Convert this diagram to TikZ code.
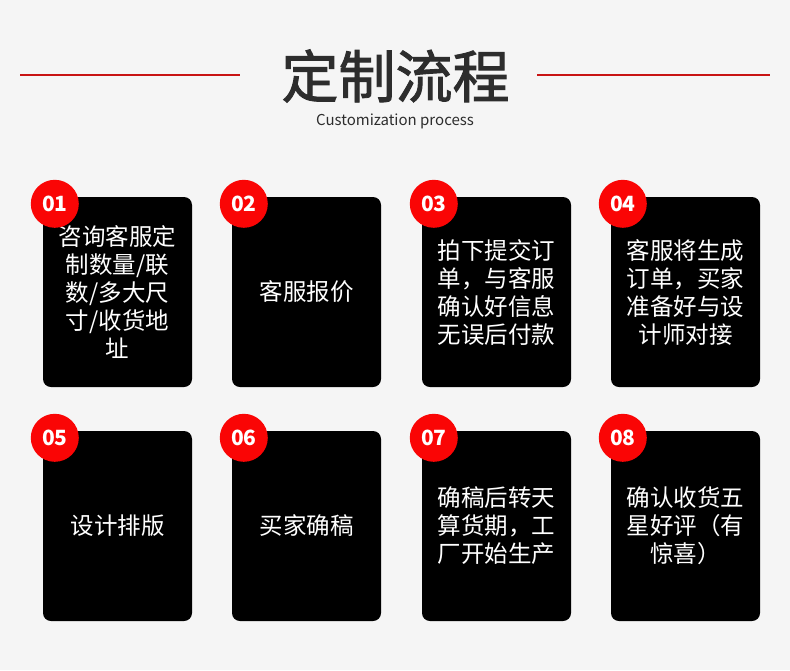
\documentclass[tikz,border=0pt]{standalone}
\usepackage{fontspec}
\setmainfont{Noto Sans CJK SC}
\newfontfamily\headfont{Noto Sans CJK SC}[FakeBold=1.6]
\definecolor{flowBg}{RGB}{245,245,245}
\definecolor{flowRed}{RGB}{250,5,5}
\definecolor{flowLine}{RGB}{200,20,20}
\definecolor{flowText}{RGB}{45,45,45}
\usepackage{tikz}
\usetikzlibrary{positioning}

\begin{document}
\begin{tikzpicture}[x=1pt, y=-1pt,
    card/.style={rectangle, rounded corners=8pt, fill=black, text=white,
                 minimum width=149pt, minimum height=190pt, inner sep=0pt,
                 align=center, font=\fontsize{23.5}{28}\selectfont},
    badge/.style={circle, fill=flowRed, text=white, minimum size=48pt, inner sep=0pt,
                  font=\fontsize{21}{21}\selectfont\bfseries}
  ]
  \fill[flowBg] (0,0) rectangle (790,670);
  \useasboundingbox (0,0) rectangle (790,670);

  % heading
  \node[text=flowText, font=\fontsize{57}{57}\selectfont\headfont] (title) at (395.5,76) {定制流程};
  \node[text=flowText, font=\fontsize{15}{15}\selectfont] (sub) at (395,121) {Customization process};
  \coordinate (l1) at (20,75);
  \coordinate (l2) at (240,75);
  \coordinate (r1) at (537,75);
  \coordinate (r2) at (770,75);
  \draw[flowLine, line width=2pt] (l1) -- (l2);
  \draw[flowLine, line width=2pt] (r1) -- (r2);

  % first row
  \node[card] (c1) at (117.5,292) {咨询客服定\\制数量/联\\数/多大尺\\寸/收货地\\址};
  \node[card] (c2) at (306.5,292) {客服报价};
  \node[card] (c3) at (496.5,292) {拍下提交订\\单，与客服\\确认好信息\\无误后付款};
  \node[card] (c4) at (685.5,292) {客服将生成\\订单，买家\\准备好与设\\计师对接};

  % second row
  \node[card] (c5) at (117.5,526) {设计排版};
  \node[card] (c6) at (306.5,526) {买家确稿};
  \node[card] (c7) at (496.5,526) {确稿后转天\\算货期，工\\厂开始生产};
  \node[card] (c8) at (685.5,526) {确认收货五\\星好评（有\\惊喜）};

  % numbers
  \node[badge] (n1) at ([shift={(12,7)}]c1.north west) {01};
  \node[badge] (n2) at ([shift={(12,7)}]c2.north west) {02};
  \node[badge] (n3) at ([shift={(12,7)}]c3.north west) {03};
  \node[badge] (n4) at ([shift={(12,7)}]c4.north west) {04};
  \node[badge] (n5) at ([shift={(12,7)}]c5.north west) {05};
  \node[badge] (n6) at ([shift={(12,7)}]c6.north west) {06};
  \node[badge] (n7) at ([shift={(12,7)}]c7.north west) {07};
  \node[badge] (n8) at ([shift={(12,7)}]c8.north west) {08};
\end{tikzpicture}
\end{document}
